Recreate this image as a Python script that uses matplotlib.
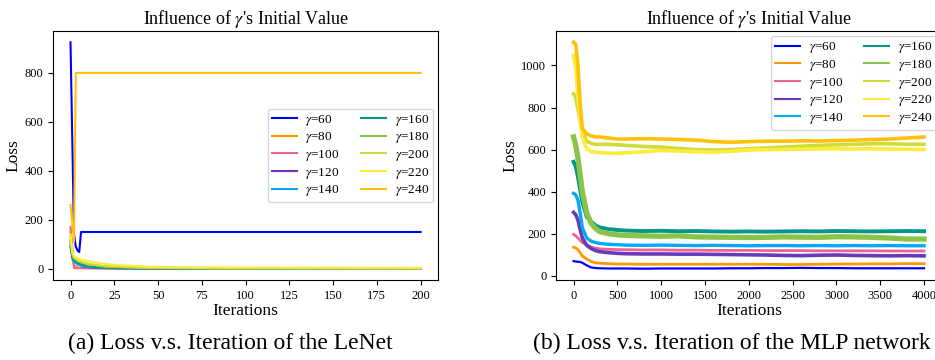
import matplotlib
matplotlib.use('Agg')
import matplotlib.pyplot as plt

plt.rcParams['font.family'] = ['Liberation Serif', 'DejaVu Serif']
plt.rcParams['mathtext.fontset'] = 'stix'

gammas = [60, 80, 100, 120, 140, 160, 180, 200, 220, 240]
colors = ['#0000FF', '#FF9800', '#F06292', '#673AB7', '#03A9F4',
          '#009688', '#8BC34A', '#CDDC39', '#FFEB3B', '#FFC107']

# LeNet: (iteration, loss) key points
lenet_x = {
    60: [0, 1, 2, 3, 4, 5, 6, 200],
    80: [0, 1, 2, 3, 5, 10, 20, 200],
    100: [0, 1, 2, 200],
    120: [0, 1, 2, 4, 8, 15, 30, 200],
    140: [0, 1, 2, 5, 10, 20, 40, 200],
    160: [0, 1, 2, 5, 10, 20, 40, 200],
    180: [0, 1, 2, 5, 10, 20, 40, 80, 200],
    200: [0, 1, 2, 5, 10, 20, 40, 80, 200],
    220: [0, 1, 2, 5, 7, 17, 26, 45, 64, 100, 200],
    240: [0, 1, 2, 3, 200],
}
lenet_y = {
    60: [925, 530, 140, 90, 75, 68, 150, 150],
    80: [150, 40, 15, 8, 4, 2, 1, 0.5],
    100: [170, 90, 2, 0],
    120: [110, 50, 30, 18, 8, 3, 1, 0.3],
    140: [95, 45, 28, 15, 7, 3, 1, 0.3],
    160: [90, 50, 35, 20, 10, 4, 1.5, 0.5],
    180: [120, 60, 42, 28, 17, 8, 3, 1, 0.5],
    200: [130, 65, 45, 30, 20, 10, 4, 2, 1],
    220: [140, 70, 50, 40, 35, 22, 15, 8, 6, 5, 3],
    240: [260, 190, 110, 800, 800],
}

# MLP: loss sampled at these iterations
mlp_x = [0, 25, 50, 75, 100, 150, 200, 250, 300, 400, 500, 600, 800, 1000,
         1200, 1400, 1600, 1800, 2000, 2200, 2400, 2600, 2800, 3000, 3200,
         3400, 3600, 3800, 4000]
mlp_y = {
    60: [70, 68, 67, 66, 62, 50, 40, 37, 36, 35, 35, 35, 34, 35, 35, 35, 35,
         36, 36, 37, 37, 38, 37, 37, 36, 36, 36, 36, 36],
    80: [136, 133, 125, 110, 95, 80, 68, 62, 60, 58, 56, 56, 55, 55, 55, 55,
         55, 55, 55, 55, 54, 54, 55, 56, 56, 57, 57, 58, 58],
    100: [197, 190, 180, 168, 158, 147, 137, 132, 128, 126, 125, 124, 123,
          123, 122, 122, 121, 121, 121, 120, 120, 120, 119, 119, 119, 119,
          118, 118, 118],
    120: [302, 290, 265, 220, 180, 145, 130, 120, 115, 110, 107, 105, 104,
          104, 103, 103, 102, 101, 100, 99, 97, 96, 98, 99, 97, 96, 95, 96, 95],
    140: [392, 385, 360, 300, 230, 180, 165, 158, 154, 150, 148, 146, 145,
          146, 145, 144, 145, 144, 143, 144, 144, 143, 144, 143, 144, 143,
          144, 143, 143],
    160: [542, 520, 470, 410, 350, 280, 258, 240, 230, 222, 218, 215, 213,
          214, 212, 213, 211, 210, 211, 210, 211, 212, 211, 213, 212, 211,
          212, 213, 212],
    180: [660, 620, 560, 480, 400, 300, 250, 225, 210, 200, 195, 192, 190,
          188, 190, 185, 184, 183, 182, 183, 185, 184, 183, 186, 185, 183,
          180, 175, 175],
    200: [865, 850, 790, 740, 690, 640, 630, 625, 625, 625, 623, 620, 615,
          612, 605, 600, 598, 600, 604, 608, 612, 616, 620, 623, 625, 628,
          628, 625, 625],
    220: [1047, 990, 850, 740, 660, 605, 590, 588, 586, 583, 582, 585, 590,
          596, 593, 590, 588, 592, 598, 600, 601, 602, 603, 604, 603, 604,
          603, 602, 600],
    240: [1110, 1100, 1000, 820, 700, 675, 665, 660, 660, 655, 650, 650, 652,
          650, 648, 645, 638, 635, 638, 640, 640, 642, 641, 643, 645, 648,
          650, 655, 660],
}
# thicker strokes stand in for the noise band of each MLP curve
mlp_lw = [1.6, 2.0, 2.0, 2.6, 2.4, 2.8, 3.8, 2.6, 2.6, 2.6]

fig = plt.figure(figsize=(9.35, 3.6), dpi=100)
ax1 = fig.add_axes([0.0567, 0.2222, 0.4118, 0.6917])
ax2 = fig.add_axes([0.5947, 0.2222, 0.4123, 0.6917])

for g, c in zip(gammas, colors):
    ax1.plot(lenet_x[g], lenet_y[g], color=c, lw=1.5, label=r'$\gamma$=%d' % g)
for g, c, lw in zip(gammas, colors, mlp_lw):
    ax2.plot(mlp_x, mlp_y[g], color=c, lw=lw, label=r'$\gamma$=%d' % g)

for ax, loc in [(ax1, 'center right'), (ax2, 'upper right')]:
    ax.set_title(r"Influence of $\gamma$'s Initial Value", fontsize=13, pad=5)
    ax.set_xlabel('Iterations', fontsize=12.5, labelpad=1)
    ax.set_ylabel('Loss', fontsize=12.5, labelpad=2)
    ax.tick_params(labelsize=9)
    leg = ax.legend(loc=loc, ncol=2, fontsize=9.5, columnspacing=1.6,
                    handlelength=1.9, handletextpad=0.65, labelspacing=0.2,
                    borderpad=0.3, borderaxespad=0.4)
    for line in leg.get_lines():
        line.set_linewidth(1.5)

fig.text(0.073, 0.047, '(a) Loss v.s. Iteration of the LeNet',
         fontsize=17, ha='left', va='center')
fig.text(0.570, 0.047, '(b) Loss v.s. Iteration of the MLP network',
         fontsize=17, ha='left', va='center')

fig.savefig('out.png', dpi=100)
